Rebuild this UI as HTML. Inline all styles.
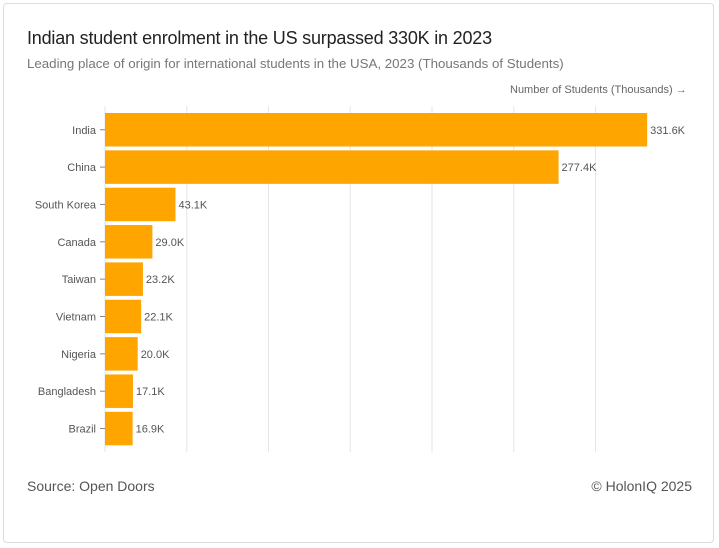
<!DOCTYPE html>
<html><head><meta charset="utf-8"><style>
body{margin:0;background:#fff;font-family:"Liberation Sans",sans-serif;}
#card{position:absolute;left:3px;top:3px;width:711px;height:540px;border:1px solid #ddd;border-radius:4px;box-sizing:border-box;}
.t{position:absolute;white-space:nowrap;}
</style></head><body>
<div id="card"></div>
<div class="t" style="left:27px;top:28px;font-size:18px;color:#222;letter-spacing:-0.2px;">Indian student enrolment in the US surpassed 330K in 2023</div>
<div class="t" style="left:27px;top:56px;font-size:13.3px;color:#777;">Leading place of origin for international students in the USA, 2023 (Thousands of Students)</div>
<div class="t" style="left:510px;top:84px;font-size:11px;color:#666;">Number of Students (Thousands) →</div>
<svg id="chart" width="719" height="548" style="position:absolute;left:0;top:0"></svg>
<div class="t" style="left:27px;top:478px;font-size:14px;color:#555;">Source: Open Doors</div>
<div class="t" style="right:27px;top:478px;font-size:14px;color:#555;">© HolonIQ 2025</div>
<script>
const categories=["India","China","South Korea","Canada","Taiwan","Vietnam","Nigeria","Bangladesh","Brazil"];
const values=[331.6,277.4,43.1,29.0,23.2,22.1,20.0,17.1,16.9];
const gridTicks=[0,50,100,150,200,250,300];
const NS="http://www.w3.org/2000/svg";
const svg=document.getElementById('chart');
const x=v=>105+v*1.635;
const y=i=>113+i*37.35;
const bh=33.5;
function mk(t,a){const e=document.createElementNS(NS,t);for(const k in a)e.setAttribute(k,a[k]);svg.appendChild(e);return e;}
gridTicks.forEach(g=>{
 const l=mk('line',{x1:x(g),x2:x(g),y1:106,y2:452,stroke:'#e6e6e6','stroke-width':1});
 
 
});
categories.forEach((c,i)=>{
 const cy=y(i)+bh/2;
 const r=mk('rect',{x:x(0),y:y(i),width:x(values[i])-x(0),height:bh,fill:'#FFA500'});
 
 
 const tk=mk('line',{x1:100,x2:105,y1:cy,y2:cy,stroke:'#888'});
 
 
 const lb=mk('text',{x:96,y:cy+4,'text-anchor':'end','font-size':11,fill:'#555','font-family':'Liberation Sans'});
 lb.textContent=c;
 
 
 const vl=mk('text',{x:x(values[i])+3,y:cy+4,'font-size':11,fill:'#555','font-family':'Liberation Sans'});
 vl.textContent=values[i].toFixed(1)+'K';
 
 
});
</script>
</body></html>
